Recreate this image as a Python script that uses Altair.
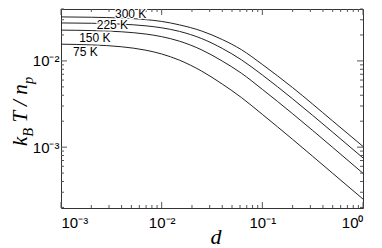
import json
import altair as alt
import pandas as pd

# ---- data ----
d_vals = [0.001, 0.002, 0.004, 0.007, 0.01, 0.015, 0.025, 0.04, 0.062, 0.1, 0.2, 0.5, 1.0]
v300 = [0.0324, 0.0321, 0.0314, 0.0301, 0.0287, 0.0262, 0.0222, 0.0177, 0.0135, 0.0091, 0.0049, 0.00201, 0.00102]
v225 = [0.02757, 0.02734, 0.0267, 0.02551, 0.02421, 0.02201, 0.01815, 0.01396, 0.0103, 0.00687, 0.00363, 0.00149, 0.00075]
v150 = [0.02275, 0.02249, 0.02177, 0.02048, 0.01912, 0.01695, 0.01342, 0.00996, 0.0072, 0.00468, 0.00244, 0.000993, 0.000498]
v75 = [0.01563, 0.01534, 0.01459, 0.0133, 0.01204, 0.01021, 0.00761, 0.00539, 0.00376, 0.0024, 0.00123, 0.000497, 0.00025]
temps = ["300 K", "225 K", "150 K", "75 K"]

label_d = [0.00492, 0.00324, 0.00217, 0.00175]
label_v = [0.0352, 0.0259, 0.0185, 0.01256]

x_major = [0.001, 0.01, 0.1, 1.0]
x_labels = ["10⁻³", "10⁻²", "10⁻¹", "10⁰"]
x_minor = [0.002, 0.003, 0.004, 0.005, 0.006, 0.007, 0.008, 0.009,
           0.02, 0.03, 0.04, 0.05, 0.06, 0.07, 0.08, 0.09,
           0.2, 0.3, 0.4, 0.5, 0.6, 0.7, 0.8, 0.9]
y_major = [0.001, 0.01]
y_labels = ["10⁻³", "10⁻²"]
y_minor = [0.0002, 0.0003, 0.0004, 0.0005, 0.0006, 0.0007, 0.0008, 0.0009,
           0.002, 0.003, 0.004, 0.005, 0.006, 0.007, 0.008, 0.009,
           0.02, 0.03, 0.04]

rows = []
for t, vs in zip(temps, [v300, v225, v150, v75]):
    for d, v in zip(d_vals, vs):
        rows.append({"d": d, "v": v, "T": t})
df = pd.DataFrame(rows)
lab_df = pd.DataFrame({"T": temps, "d": label_d, "v": label_v})

W, H = 302, 199
MAJ, MIN = 6, 3
xscale = alt.Scale(type="log", domain=[0.001, 1.0], nice=False)
yscale = alt.Scale(type="log", domain=[0.000197, 0.04], nice=False)

LBL_FONT = "Liberation Sans"
SERIF = "Liberation Serif"
TICK_COLOR = "#555"


def label_expr(vals, labs):
    return f"{json.dumps(labs, ensure_ascii=False)}[indexof({json.dumps(vals)}, datum.value)]"


x_axis = alt.Axis(
    orient="bottom", values=x_major, labelExpr=label_expr(x_major, x_labels),
    ticks=False, tickSize=0, domain=False, grid=False, title=None,
    labelFont=LBL_FONT, labelFontSize=15, labelColor="black", labelPadding=7)
y_axis = alt.Axis(
    orient="left", values=y_major, labelExpr=label_expr(y_major, y_labels),
    ticks=False, tickSize=0, domain=False, grid=False, title=None,
    labelFont=LBL_FONT, labelFontSize=15, labelColor="black", labelPadding=2)

X = alt.X("d:Q", scale=xscale, axis=x_axis)
Y = alt.Y("v:Q", scale=yscale, axis=y_axis)

lines = alt.Chart(df).mark_line(color="#222", strokeWidth=1, interpolate="monotone").encode(
    x=X, y=Y, detail="T:N")

xt_major = pd.DataFrame({"d": x_major})
xt_minor = pd.DataFrame({"d": x_minor})
yt_major = pd.DataFrame({"v": y_major})
yt_minor = pd.DataFrame({"v": y_minor})


def xticks(data, length):
    bottom = alt.Chart(data).mark_rule(color=TICK_COLOR, strokeWidth=1).encode(
        x=X, y=alt.value(H), y2=alt.value(H - length))
    top = alt.Chart(data).mark_rule(color=TICK_COLOR, strokeWidth=1).encode(
        x=X, y=alt.value(0), y2=alt.value(length))
    return [bottom, top]


def yticks(data, length):
    left = alt.Chart(data).mark_rule(color=TICK_COLOR, strokeWidth=1).encode(
        y=Y, x=alt.value(0), x2=alt.value(length))
    right = alt.Chart(data).mark_rule(color=TICK_COLOR, strokeWidth=1).encode(
        y=Y, x=alt.value(W), x2=alt.value(W - length))
    return [left, right]


tick_layers = xticks(xt_major, MAJ) + xticks(xt_minor, MIN) + yticks(yt_major, MAJ) + yticks(yt_minor, MIN)

halo = alt.Chart(lab_df).mark_text(
    font=LBL_FONT, fontSize=12, stroke="white", strokeWidth=2.5, fill="white",
    align="center", baseline="middle").encode(x=X, y=Y, text="T:N")
labels = alt.Chart(lab_df).mark_text(
    font=LBL_FONT, fontSize=12, color="black",
    align="center", baseline="middle").encode(x=X, y=Y, text="T:N")

one = pd.DataFrame({"a": [0]})


def title_part(txt, px, py, size, angle=270, align="left"):
    return alt.Chart(one).mark_text(
        text=txt, font=SERIF, fontStyle="italic", fontSize=size, angle=angle,
        align=align, baseline="alphabetic", color="black").encode(
        x=alt.value(px), y=alt.value(py))


ytitle = [
    title_part("k", -34, 137, 21),
    title_part("B", -28.5, 127.7, 14.5),
    title_part("T / n", -34, 113.5, 21),
    title_part("p", -28.5, 75, 14.5),
]
xtitle = title_part("d", 155, 235, 22, angle=0, align="center")

chart = alt.layer(lines, *tick_layers, halo, labels, *ytitle, xtitle).properties(
    width=W, height=H,
    autosize=alt.AutoSizeParams(type="none"),
    padding={"left": 53, "top": 1, "right": 11, "bottom": 40},
).configure_view(stroke="#333", strokeWidth=1)

chart.save("out.html", embed_options={"renderer": "svg", "actions": False})
